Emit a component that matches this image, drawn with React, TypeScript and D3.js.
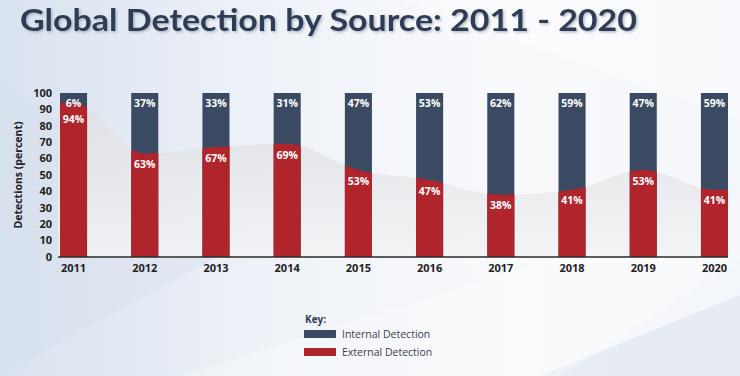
import React from "react";
import * as d3 from "d3";

const years = ["2011", "2012", "2013", "2014", "2015", "2016", "2017", "2018", "2019", "2020"];
const externalPct = [94, 63, 67, 69, 53, 47, 38, 41, 53, 41];
const internalPct = [6, 37, 33, 31, 47, 53, 62, 59, 47, 59];
const yTicks = [0, 10, 20, 30, 40, 50, 60, 70, 80, 90, 100];
const legendItems = ["Internal Detection", "External Detection"];

const W = 740;
const H = 376;
const NAVY = "#3a4a63";
const RED = "#b0242c";
const FONT = "'Open Sans', 'DejaVu Sans', sans-serif";

export default function App() {
  const x = d3.scaleBand<string>().domain(years).range([60, 728]).paddingInner(0.62).paddingOuter(0);
  const y = d3.scaleLinear().domain([0, 100]).range([257, 93]);
  const bw = x.bandwidth();

  const pts: [number, number][] = [];
  pts.push([x(years[0])! - 2, externalPct[0]]);
  years.forEach((yr, i) => pts.push([x(yr)! + bw / 2, externalPct[i]]));
  pts.push([x(years[years.length - 1])! + bw, externalPct[externalPct.length - 1]]);

  const area = d3
    .area<[number, number]>()
    .x((d) => d[0])
    .y0(y(0))
    .y1((d) => y(d[1]))
    .curve(d3.curveMonotoneX);
  const areaPath = area(pts) || "";

  return (
    <svg width={W} height={H} style={{ position: "absolute", left: 0, top: 0 }}>
      <defs>
        <linearGradient id="bg" x1="0" y1="0" x2="1" y2="0">
          <stop offset="0" stopColor="#d9e2ef" />
          <stop offset="0.35" stopColor="#eef2f8" />
          <stop offset="0.7" stopColor="#f9fafc" />
          <stop offset="1" stopColor="#f3f6fa" />
        </linearGradient>
        <linearGradient id="ga" x1="0" y1="0" x2="0" y2="1">
          <stop offset="0" stopColor="#dedfe2" />
          <stop offset="1" stopColor="#f2f3f5" />
        </linearGradient>
        <clipPath id="bars">
          {years.map((yr) => (
            <rect key={yr} x={x(yr)} y={y(100)} width={bw} height={y(0) - y(100)} />
          ))}
        </clipPath>
        <filter id="ts" x="-5%" y="-20%" width="110%" height="150%">
          <feDropShadow dx="1.5" dy="1.5" stdDeviation="1" floodColor="#8a94a6" floodOpacity="0.6" />
        </filter>
      </defs>
      <rect x={0} y={0} width={W} height={H} fill="url(#bg)" />
      <polygon points={`0,80 230,250 0,376`} fill="#d3ddeb" opacity={0.35} />
      <polygon points={`400,0 740,0 740,120`} fill="#ffffff" opacity={0.4} />
      <polygon points={`540,376 740,295 740,376`} fill="#e3e9f3" opacity={0.8} />
      <polygon points={`180,376 560,376 740,260 740,200`} fill="#ffffff" opacity={0.25} />

      <text
        x={20}
        y={31}
        fontFamily="'Lato', 'DejaVu Sans', sans-serif"
        fontWeight={700}
        fontSize={31}
        fill="#2d3c54"
        textLength={617}
        lengthAdjust="spacingAndGlyphs"
        filter="url(#ts)"
      >
        Global Detection by Source: 2011 - 2020
      </text>

      <path d={areaPath} fill="url(#ga)" opacity={0.85} />

      {years.map((yr) => (
        <rect key={yr} x={x(yr)} y={y(100)} width={bw} height={y(0) - y(100)} fill={NAVY} />
      ))}
      <path d={areaPath} fill={RED} clipPath="url(#bars)" />

      {years.map((yr, i) => (
        <g key={yr} fontFamily={FONT} fontWeight={700} fontSize={10.5} fill="#ffffff" textAnchor="middle">
          <text x={x(yr)! + bw / 2} y={y(100) + 10} dy="0.35em">
            {internalPct[i]}%
          </text>
          <text x={x(yr)! + bw / 2} y={Math.max(y(externalPct[i]) + 11, y(100) + 26)} dy="0.35em">
            {externalPct[i]}%
          </text>
        </g>
      ))}

      <line x1={58} x2={728} y1={y(0)} y2={y(0)} stroke="#2a2a2a" strokeWidth={1.3} />

      {yTicks.map((t) => (
        <text
          key={t}
          x={52}
          y={y(t)}
          dy="0.35em"
          textAnchor="end"
          fontFamily={FONT}
          fontWeight={700}
          fontSize={11}
          fill="#222"
        >
          {t}
        </text>
      ))}

      {years.map((yr) => (
        <text
          key={yr}
          x={x(yr)! + bw / 2}
          y={268}
          dy="0.35em"
          textAnchor="middle"
          fontFamily={FONT}
          fontWeight={700}
          fontSize={11}
          fill="#222"
        >
          {yr}
        </text>
      ))}

      <text
        transform={`translate(18,${y(50)}) rotate(-90)`}
        textAnchor="middle"
        dy="0.35em"
        fontFamily={FONT}
        fontWeight={700}
        fontSize={10.5}
        fill="#222"
      >
        Detections (percent)
      </text>

      <text x={305} y={319} dy="0.35em" fontFamily={FONT} fontWeight={700} fontSize={10} fill="#2d3c54">
        Key:
      </text>
      {legendItems.map((lab, i) => (
        <g key={lab}>
          <rect x={304} y={330 + i * 18} width={32} height={8} fill={i === 0 ? NAVY : RED} />
          <text
            x={342}
            y={334 + i * 18}
            dy="0.35em"
            fontFamily={FONT}
            fontSize={10.5}
            fill="#3a3f4e"
          >
            {lab}
          </text>
        </g>
      ))}
    </svg>
  );
}
